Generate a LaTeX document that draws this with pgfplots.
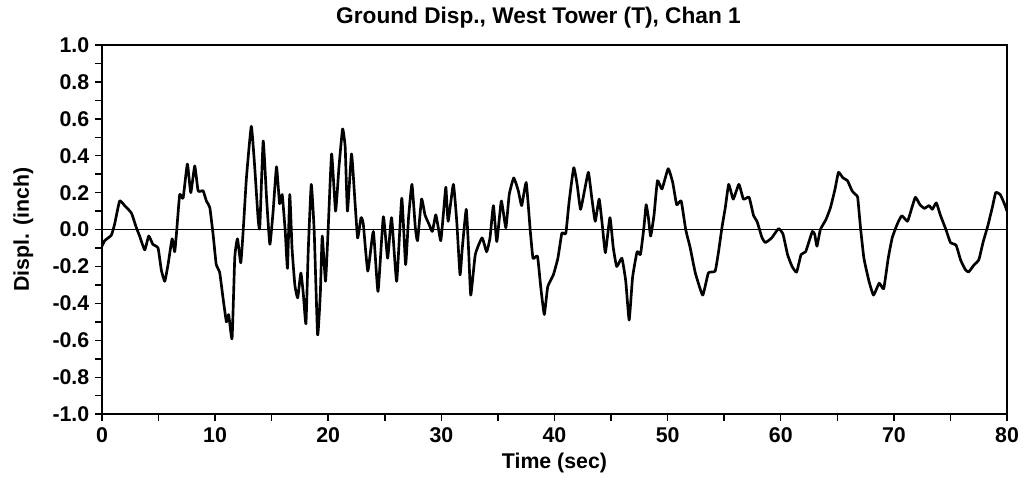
\documentclass[border=0pt]{standalone}
\usepackage{fontspec}
\setmainfont{Liberation Sans}
\usepackage{pgfplots}
\pgfplotsset{compat=1.18}
\begin{document}
\begin{tikzpicture}
\begin{axis}[
  scale only axis,
  width=679pt, height=277pt,
  xmin=0, xmax=80, ymin=-1, ymax=1,
  axis line style={line width=1.5pt},
  xtick={0,10,...,80},
  xticklabels={0,10,20,30,40,50,60,70,80},
  minor xtick={5,15,...,75},
  ytick={-1,-0.8,-0.6,-0.4,-0.2,0,0.2,0.4,0.6,0.8,1},
  yticklabels={-1.0,-0.8,-0.6,-0.4,-0.2,0.0,0.2,0.4,0.6,0.8,1.0},
  minor ytick={-0.9,-0.7,-0.5,-0.3,-0.1,0.1,0.3,0.5,0.7,0.9},
  tick align=outside, tick pos=left,
  major tick length=5pt, minor tick length=5pt,
  every tick/.style={black, line width=1.1pt},
  tick label style={font=\fontsize{16}{17}\selectfont\bfseries},
  xticklabel style={yshift=-1.5pt},
  yticklabel style={xshift=-1pt},
  title={Ground Disp., West Tower (T), Chan 1},
  title style={font=\fontsize{17}{18}\selectfont\bfseries, at={(axis description cs:0.5,1)}, anchor=base, yshift=9.75pt, xshift=-12pt},
  xlabel={Time (sec)},
  ylabel={Displ. (inch)},
  label style={font=\fontsize{16}{17}\selectfont\bfseries},
  xlabel style={at={(axis description cs:0.5,0)}, anchor=base, yshift=-40.5pt},
  ylabel style={at={(axis description cs:0,0.5)}, anchor=center, yshift=59pt},
]
\addplot[black, line width=1.1pt, forget plot] coordinates {(0,0) (80,0)};
\addplot[black, line width=2pt, line join=round, smooth, tension=0.25] coordinates {
(0,-0.09) (0.24,-0.06) (0.83,-0.03) (1.12,0.03) (1.56,0.155) (2.0,0.13) (2.6,0.09) (3.04,0.01)
(3.33,-0.035) (3.78,-0.11) (4.13,-0.035) (4.5,-0.08) (4.96,-0.10) (5.25,-0.22) (5.55,-0.28)
(5.84,-0.19) (6.2,-0.05) (6.43,-0.12) (6.6,-0.01) (6.87,0.19) (7.17,0.17) (7.55,0.355)
(7.85,0.20) (8.2,0.345) (8.5,0.21) (8.94,0.21) (9.23,0.155) (9.53,0.12) (9.83,-0.03)
(10.1,-0.19) (10.4,-0.23) (10.7,-0.37) (11.0,-0.50) (11.2,-0.46) (11.5,-0.59) (11.74,-0.15)
(11.98,-0.05) (12.27,-0.18) (12.5,0.01) (12.77,0.28) (13.2,0.56) (13.5,0.34) (13.8,0.06)
(13.95,0.01) (14.25,0.48) (14.55,0.17) (14.84,-0.08) (15.13,0.10) (15.43,0.34) (15.7,0.14)
(15.93,0.19) (16.2,-0.01) (16.4,-0.21) (16.6,0.19) (16.8,-0.10) (17.05,-0.30) (17.3,-0.37)
(17.58,-0.235) (17.8,-0.35) (18.03,-0.51) (18.23,-0.12) (18.5,0.245) (18.76,-0.01)
(19.06,-0.57) (19.3,-0.35) (19.47,-0.035) (19.76,-0.28) (20.0,0.01) (20.3,0.41) (20.65,0.10)
(20.95,0.34) (21.27,0.545) (21.5,0.445) (21.7,0.10) (22.06,0.41) (22.36,0.155) (22.6,-0.045)
(22.9,0.065) (23.1,0.03) (23.5,-0.225) (23.99,-0.01) (24.4,-0.335) (24.87,0.07) (25.25,-0.155)
(25.6,0.065) (26.05,-0.28) (26.5,0.17) (26.84,-0.19) (27.1,0.065) (27.4,0.245) (27.7,0.01)
(27.9,-0.06) (28.25,0.165) (28.55,0.08) (28.9,0.03) (29.2,-0.01) (29.5,0.08) (29.7,0.02)
(29.95,-0.06) (30.2,0.10) (30.4,0.23) (30.6,0.045) (31.06,0.245) (31.36,0.045) (31.65,-0.245)
(31.85,-0.10) (32.2,0.11) (32.4,-0.10) (32.6,-0.355) (33.0,-0.135) (33.6,-0.045) (34.0,-0.12)
(34.3,-0.045) (34.6,0.13) (34.9,-0.065) (35.3,0.155) (35.7,0.01) (36.0,0.19) (36.4,0.28)
(36.8,0.21) (37.1,0.13) (37.5,0.255) (37.85,0.00) (38.1,-0.155) (38.5,-0.145) (38.8,-0.32)
(39.1,-0.46) (39.4,-0.31) (39.9,-0.245) (40.3,-0.155) (40.65,-0.02) (41.0,-0.02) (41.3,0.155)
(41.7,0.335) (42.0,0.245) (42.3,0.11) (42.65,0.21) (43.0,0.31) (43.3,0.17) (43.6,0.045)
(43.95,0.165) (44.25,0.01) (44.5,-0.125) (44.9,0.065) (45.2,-0.10) (45.5,-0.20) (45.96,-0.155)
(46.3,-0.28) (46.6,-0.49) (46.9,-0.26) (47.3,-0.12) (47.6,-0.135) (47.9,0.01) (48.1,0.135)
(48.3,0.065) (48.5,-0.035) (48.8,0.08) (49.1,0.265) (49.5,0.22) (50.05,0.33) (50.45,0.255)
(50.8,0.135) (51.2,0.155) (51.6,0.00) (52.0,-0.10) (52.45,-0.235) (53.1,-0.355) (53.6,-0.235)
(54.2,-0.225) (54.5,-0.12) (54.8,0.01) (55.1,0.12) (55.4,0.245) (55.8,0.165) (56.3,0.245)
(56.7,0.165) (57.2,0.175) (57.6,0.075) (57.9,0.045) (58.35,-0.045) (58.65,-0.07) (59.2,-0.045)
(59.8,0.005) (60.2,-0.025) (60.6,-0.135) (61.0,-0.20) (61.4,-0.23) (61.8,-0.135) (62.2,-0.12)
(62.6,-0.045) (62.8,-0.01) (63.0,-0.025) (63.2,-0.09) (63.5,0.00) (64.0,0.055) (64.4,0.12)
(64.8,0.22) (65.1,0.31) (65.5,0.28) (65.9,0.265) (66.3,0.21) (66.6,0.19) (66.8,0.175)
(67.05,0.01) (67.35,-0.155) (67.8,-0.28) (68.2,-0.355) (68.7,-0.29) (69.1,-0.32) (69.5,-0.155)
(69.85,-0.045) (70.3,0.03) (70.7,0.075) (71.2,0.045) (71.5,0.10) (71.9,0.175) (72.3,0.135)
(72.7,0.115) (73.1,0.13) (73.4,0.11) (73.75,0.145) (74.1,0.08) (74.6,0.00) (75.0,-0.07)
(75.5,-0.085) (75.9,-0.165) (76.3,-0.215) (76.6,-0.23) (77.1,-0.19) (77.5,-0.165) (77.9,-0.065)
(78.3,0.02) (78.7,0.12) (79.0,0.20) (79.4,0.19) (79.8,0.135) (80.0,0.10)
};
\coordinate (sw) at (rel axis cs:0,0);
\coordinate (ne) at (rel axis cs:1,1);
\end{axis}
\pgfresetboundingbox
\path[use as bounding box] ([xshift=-76.5pt,yshift=-49.5pt]sw) rectangle ([xshift=15pt,yshift=33.75pt]ne);
\end{tikzpicture}
\end{document}
